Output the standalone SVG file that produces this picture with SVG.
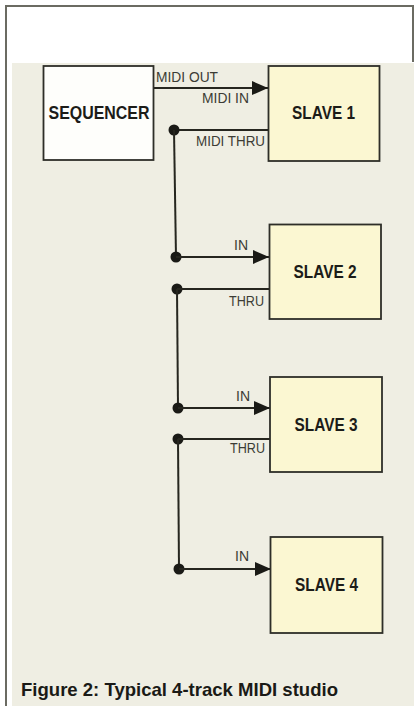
<svg xmlns="http://www.w3.org/2000/svg" width="417" height="706" viewBox="0 0 417 706">
<defs>
<style>
.frame{fill:none;stroke:#6b6b62;stroke-width:2}
.box{stroke:#2e2e28;stroke-width:1.8}
.slave{fill:#fbf7d2}
.seq{fill:#fefefb}
.big{font-family:"Liberation Sans",Arial,sans-serif;font-weight:bold;font-size:19px;fill:#1c1c18;text-anchor:middle}
.lbl{font-family:"Liberation Sans",Arial,sans-serif;font-size:15px;fill:#3c3c35}
.wire{fill:none;stroke:#26261f;stroke-width:2}
.dot{fill:#1a1a16}
.cap{font-family:"Liberation Sans",Arial,sans-serif;font-weight:bold;font-size:18.5px;fill:#1a1a16}
</style>
<marker id="arr" markerUnits="userSpaceOnUse" markerWidth="17" markerHeight="16" viewBox="0 0 17 16" refX="16" refY="8" orient="auto">
<path d="M0,1 L16,8 L0,15 Z" fill="#1a1a16"/>
</marker>
</defs>
<rect x="0" y="0" width="417" height="706" fill="#ffffff"/>
<path class="frame" d="M6,706 L6,6 L413,6 L413,62"/>
<rect x="12" y="63" width="402" height="643" fill="#efeee3"/>

<g id="connectors">
<line class="wire" x1="153" y1="88" x2="268" y2="88" marker-end="url(#arr)"/>
<text class="lbl" x="156" y="82" textLength="62" lengthAdjust="spacingAndGlyphs">MIDI OUT</text>
<text class="lbl" x="202" y="103" textLength="47" lengthAdjust="spacingAndGlyphs">MIDI IN</text>
<line class="wire" x1="174" y1="130" x2="269" y2="130"/>
<text class="lbl" x="196" y="146" textLength="69" lengthAdjust="spacingAndGlyphs">MIDI THRU</text>
<circle class="dot" cx="174" cy="130" r="5.5"/>
<line class="wire" x1="174" y1="130" x2="176" y2="257"/>
<circle class="dot" cx="176" cy="257" r="5.5"/>
<line class="wire" x1="176" y1="257" x2="269" y2="257" marker-end="url(#arr)"/>
<text class="lbl" x="234" y="250" textLength="14" lengthAdjust="spacingAndGlyphs">IN</text>
<circle class="dot" cx="177" cy="289" r="5.5"/>
<line class="wire" x1="177" y1="289" x2="270" y2="289"/>
<text class="lbl" x="229" y="306" textLength="35" lengthAdjust="spacingAndGlyphs">THRU</text>
<line class="wire" x1="177" y1="289" x2="178" y2="408"/>
<circle class="dot" cx="178" cy="408" r="5.5"/>
<line class="wire" x1="178" y1="408" x2="270" y2="408" marker-end="url(#arr)"/>
<text class="lbl" x="236" y="401" textLength="14" lengthAdjust="spacingAndGlyphs">IN</text>
<circle class="dot" cx="178" cy="439" r="5.5"/>
<line class="wire" x1="178" y1="439" x2="270" y2="439"/>
<text class="lbl" x="230" y="453" textLength="35" lengthAdjust="spacingAndGlyphs">THRU</text>
<line class="wire" x1="178" y1="439" x2="179" y2="569"/>
<circle class="dot" cx="179" cy="569" r="5.5"/>
<line class="wire" x1="179" y1="569" x2="271" y2="569" marker-end="url(#arr)"/>
<text class="lbl" x="235" y="561" textLength="14" lengthAdjust="spacingAndGlyphs">IN</text>
</g>

<g id="sequencer">
<rect class="box seq" x="43.5" y="66" width="110" height="94"/>
<text class="big" x="99" y="119" textLength="101" lengthAdjust="spacingAndGlyphs">SEQUENCER</text>
</g>
<g id="slave1">
<rect class="box slave" x="268.5" y="66" width="111" height="95"/>
<text class="big" x="323.5" y="119" textLength="63" lengthAdjust="spacingAndGlyphs">SLAVE 1</text>
</g>
<g id="slave2">
<rect class="box slave" x="269.5" y="224.5" width="111.5" height="94.5"/>
<text class="big" x="325" y="278" textLength="63" lengthAdjust="spacingAndGlyphs">SLAVE 2</text>
</g>
<g id="slave3">
<rect class="box slave" x="270" y="377" width="112" height="95"/>
<text class="big" x="326" y="431" textLength="63" lengthAdjust="spacingAndGlyphs">SLAVE 3</text>
</g>
<g id="slave4">
<rect class="box slave" x="270.5" y="537" width="112" height="96"/>
<text class="big" x="326.5" y="591" textLength="63" lengthAdjust="spacingAndGlyphs">SLAVE 4</text>
</g>

<text class="cap" x="21" y="696" textLength="317" lengthAdjust="spacingAndGlyphs">Figure 2: Typical 4-track MIDI studio</text>
</svg>
